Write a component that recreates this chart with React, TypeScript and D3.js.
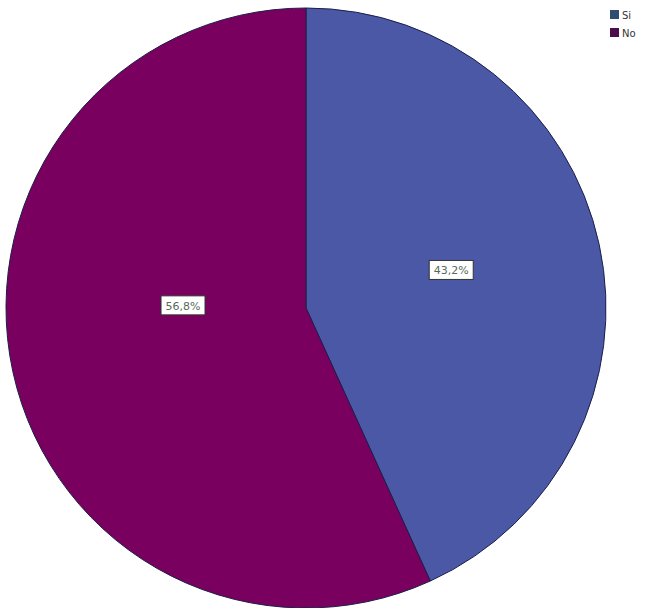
import React from "react";
import * as d3 from "d3";

const categories = ["Si", "No"];
const values = [43.2, 56.8];
const labels = ["43,2%", "56,8%"];
const colors = ["#4b58a6", "#7a005f"];
const legendColors = ["#2f4d6e", "#4a0f48"];

const W = 654;
const H = 608;
const cx = 306;
const cy = 308;
const R = 300;
// label placement (radius fraction, angle in degrees clockwise from top)
const labelLayout = [
  { rf: 0.5, deg: 75.5 },
  { rf: 0.41, deg: 271 },
];

export default function App() {
  const pie = d3.pie<number>().sort(null).value((d) => d);
  const arcs = pie(values);
  const arc = d3.arc<d3.PieArcDatum<number>>().innerRadius(0).outerRadius(R);
  return (
    <svg
      width={W}
      height={H}
      style={{ position: "absolute", left: 0, top: 0, background: "#fff" }}
    >
      <g transform={`translate(${cx},${cy})`}>
        {arcs.map((a, i) => (
          <path key={i} d={arc(a) || ""} fill={colors[i]} stroke="#1c1f4a" strokeWidth={1} />
        ))}
        {arcs.map((a, i) => {
          const L = labelLayout[i];
          const ang = (L.deg * Math.PI) / 180;
          const x = Math.sin(ang) * R * L.rf;
          const y = -Math.cos(ang) * R * L.rf;
          return (
            <g key={i} transform={`translate(${x},${y})`}>
              <rect x={-22} y={-10} width={44} height={19} fill="#fff" stroke="#333" strokeWidth={1} />
              <text
                x={0}
                y={4}
                textAnchor="middle"
                fontFamily="'DejaVu Sans', sans-serif"
                fontSize={11}
                fill="#5a6a5a"
              >
                {labels[i]}
              </text>
            </g>
          );
        })}
      </g>
      {categories.map((c, i) => (
        <g key={c} transform={`translate(610,${10 + i * 18})`}>
          <rect x={0} y={0} width={9} height={9} fill={legendColors[i]} />
          <text
            x={12}
            y={8.5}
            fontFamily="'DejaVu Sans', sans-serif"
            fontSize={10}
            fill="#333"
          >
            {c}
          </text>
        </g>
      ))}
    </svg>
  );
}
